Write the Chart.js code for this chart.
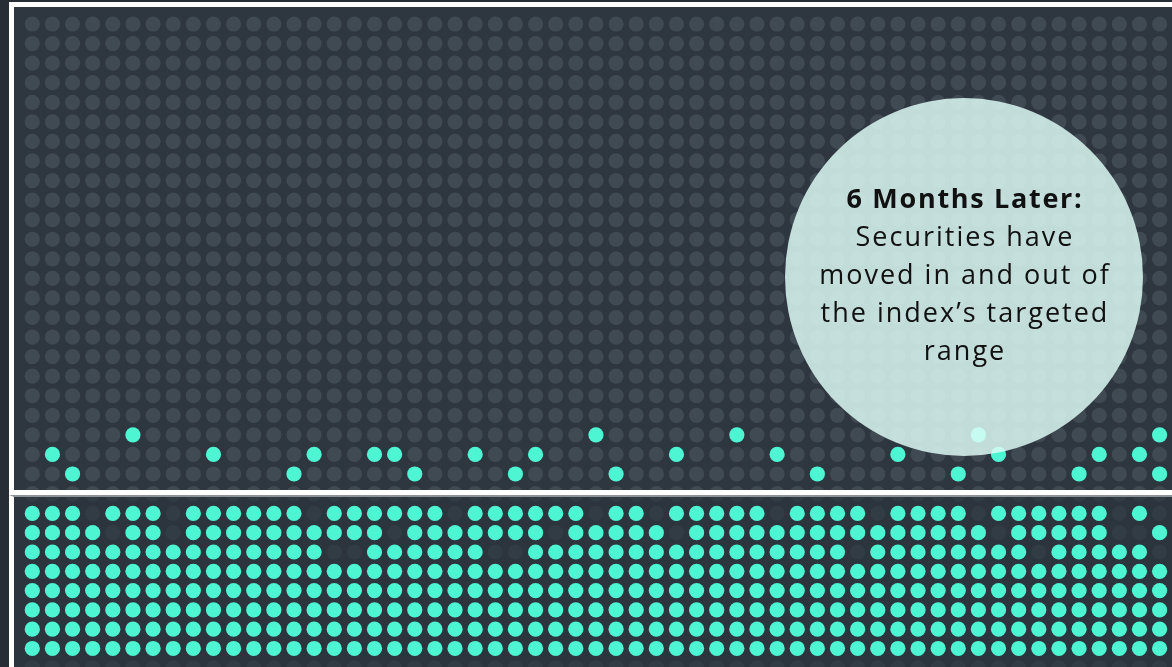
<!DOCTYPE html>
<html>
<head>
<meta charset="utf-8">
<title>6 Months Later</title>
<script src="https://cdn.jsdelivr.net/npm/chart.js@4.4.1/dist/chart.umd.min.js"></script>
<style>
  html, body { margin: 0; padding: 0; width: 1172px; height: 667px; overflow: hidden; background: #262d35; }
  .panel { position: absolute; box-sizing: border-box; overflow: hidden; }
  #topPanel { left: 9px; top: 2px; width: 1200px; height: 493px; border: 5px solid #ffffff; border-right: none; background: #2e373f; }
  #bottomPanel { left: 9px; top: 495px; width: 1200px; height: 172px; border-left: 5px solid #ffffff; border-top: 2px solid #8c949a; background: #2c353d; }
  .panel canvas { position: absolute; left: 0; top: 0; }
  #bubble {
    position: absolute; left: 785px; top: 98px; width: 358px; height: 358px;
    border-radius: 50%; background: rgba(222, 252, 247, 0.84);
  }
  #bubbleText {
    position: absolute; left: 765px; top: 179px; width: 400px;
    text-align: center; font-family: "Open Sans", Lato, sans-serif;
    font-size: 27px; line-height: 38px; letter-spacing: 2px; color: #111;
  }
  #bubbleText b { font-weight: 700; letter-spacing: 1.7px; }
</style>
</head>
<body>
<div id="topPanel" class="panel"><canvas id="topChart" width="1158" height="483"></canvas></div>
<div id="bottomPanel" class="panel"><canvas id="bottomChart" width="1158" height="170"></canvas></div>
<div id="bubble"></div>
<div id="bubbleText"><b>6 Months Later:</b><br>Securities have<br>moved in and out of<br>the index’s targeted<br>range</div>

<script>
// Grid size
const COLUMNS = 57;
const TOP_ROWS = 24;
const BOTTOM_ROWS = 8;

// Securities that moved out of the range (top panel): column and row from the bottom
const movedCols   = [1, 2, 5, 9, 13, 14, 17, 18, 19, 22, 24, 25, 28, 29, 32, 35, 37, 39, 43, 46, 47, 48, 52, 53, 55, 56, 56];
const movedLevels = [1, 0, 2, 1, 0,  1,  1,  1,  0,  1,  0,  1,  2,  0,  1,  2,  1,  0,  1,  0,  2,  1,  0,  1,  1,  2,  0];

// Gaps left in the targeted range (bottom panel), by row counted from the top
const gapsRow1 = [3, 7, 14, 21, 28, 31, 37, 42, 47, 54, 56];
const gapsRow2 = [4, 7, 18, 26, 32, 48, 54, 55];
const gapsRow3 = [15, 16, 23, 24, 41, 50, 56];

// Colours
const TEAL = '#4df5d3';
const GREY_DOT = '#404a52';
const EMPTY_DOT = '#323c44';

// x scale shared by both panels (column spacing ~20.1px)
const X_MIN = -0.909;
const X_MAX = 56.617;

function gridPoints(rowFrom, rowTo) {
    const pts = [];
    for (let c = 0; c < COLUMNS; c++) {
        for (let r = rowFrom; r <= rowTo; r++) {
            pts.push({ x: c, y: r });
        }
    }
    return pts;
}

// order: higher numbers are drawn first (underneath)
function dotDataset(data, color, order) {
    return {
        data: data,
        order: order,
        backgroundColor: color,
        pointBackgroundColor: color,
        pointBorderWidth: 0,
        pointBorderColor: color,
        borderWidth: 0,
        pointRadius: 7.6,
        pointHoverRadius: 7.6,
        showLine: false,
        clip: 0
    };
}

function baseOptions(yMin, yMax) {
    return {
        responsive: false,
        animation: false,
        events: [],
        layout: { padding: 0, autoPadding: false },
        plugins: { legend: { display: false }, tooltip: { enabled: false } },
        scales: {
            x: { type: 'linear', min: X_MIN, max: X_MAX, display: false },
            y: { type: 'linear', min: yMin, max: yMax, display: false }
        }
    };
}

// Top panel: grey grid with moved securities in teal
const movedPoints = movedCols.map((c, i) => ({ x: c, y: movedLevels[i] }));

new Chart(document.getElementById('topChart'), {
    type: 'scatter',
    data: {
        datasets: [
            dotDataset(gridPoints(-1, TOP_ROWS - 1), GREY_DOT, 2),
            dotDataset(movedPoints, TEAL, 1)
        ]
    },
    options: baseOptions(-0.818, 23.87)
});

// Bottom panel: full teal block except the gaps
const gapRows = [gapsRow1, gapsRow2, gapsRow3];
const filledPoints = [];
for (let c = 0; c < COLUMNS; c++) {
    for (let r = 0; r < BOTTOM_ROWS; r++) {
        const fromTop = BOTTOM_ROWS - 1 - r;
        if (fromTop < gapRows.length && gapRows[fromTop].includes(c)) continue;
        filledPoints.push({ x: c, y: r });
    }
}

new Chart(document.getElementById('bottomChart'), {
    type: 'scatter',
    data: {
        datasets: [
            dotDataset(gridPoints(-1, BOTTOM_ROWS), EMPTY_DOT, 2),
            dotDataset(filledPoints, TEAL, 1)
        ]
    },
    options: baseOptions(-0.959, 7.85)
});
</script>
</body>
</html>
